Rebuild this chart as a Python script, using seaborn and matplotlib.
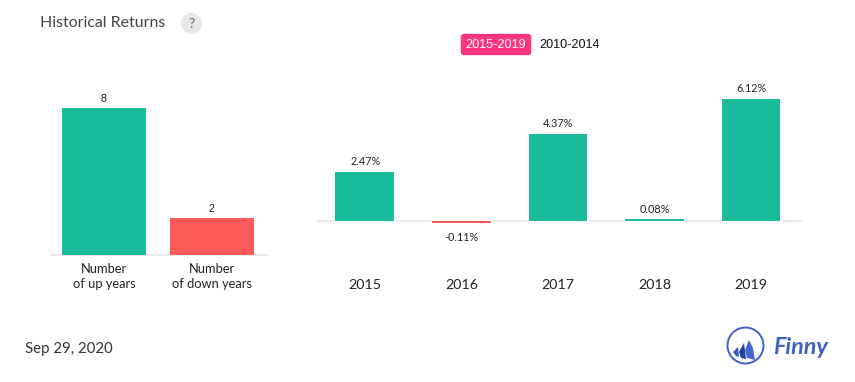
import pandas as pd
import seaborn as sns
import matplotlib.pyplot as plt
from matplotlib.patches import Circle, FancyBboxPatch, Polygon

W, H = 855, 382

count_labels = ['Number\nof up years', 'Number\nof down years']
count_values = [8, 2]
years = ['2015', '2016', '2017', '2018', '2019']
returns = [2.47, -0.11, 4.37, 0.08, 6.12]
return_labels = ['2.47%', '-0.11%', '4.37%', '0.08%', '6.12%']

GREEN = '#1abc9c'
RED = '#ff5a5a'
GREY = '#e9e9e9'
BAR_W = 0.611


def px_axes(fig, left, top, right, bottom):
    return fig.add_axes([left / W, 1 - bottom / H, (right - left) / W, (bottom - top) / H])


def ftext(x, y, s, **kw):
    kw.setdefault('ha', 'center')
    kw.setdefault('va', 'center')
    kw.setdefault('family', 'Lato')
    overlay.text(x, y, s, **kw)


def clean(ax):
    ax.set_xlabel('')
    ax.set_ylabel('')
    ax.set_yticks([])
    ax.tick_params(axis='x', length=0)
    sns.despine(ax=ax, left=True, top=True, right=True, bottom=True)
    ax.patch.set_alpha(0)


sns.set_theme(style="white")
plt.rcParams['font.family'] = ['Lato', 'DejaVu Sans']
fig = plt.figure(figsize=(W / 100, H / 100), dpi=100)

# left panel, up/down counts
ax1 = px_axes(fig, 50, 90, 267, 255)
df1 = pd.DataFrame({'label': count_labels, 'value': count_values})
sns.barplot(data=df1, x='label', y='value', hue='label', palette=[GREEN, RED], saturation=1,
            dodge=False, legend=False, width=0.778, ax=ax1, zorder=3, linewidth=0)
ax1.set_xlim(-0.5, 1.509)
ax1.set_ylim(0, 165 / 18.4)
ax1.axhline(0, color=GREY, linewidth=1.4, zorder=1, clip_on=False)
clean(ax1)
ax1.set_xticks([0, 1])
ax1.set_xticklabels(count_labels, fontsize=9.3, color='#222222', linespacing=1.25)
ax1.tick_params(axis='x', pad=6)
for i, v in enumerate(count_values):
    ax1.annotate(str(v), (i, v), xytext=(-0.5, 3), textcoords='offset points',
                 ha='center', va='bottom', fontsize=7.6, family='Liberation Sans', color='#111111')

# right panel, yearly returns
ax2 = px_axes(fig, 317.5, 80, 800.5, 240)
df2 = pd.DataFrame({'year': years, 'ret': returns, 'sign': ['up' if r > 0 else 'down' for r in returns]})
sns.barplot(data=df2, x='year', y='ret', hue='sign', palette={'up': GREEN, 'down': RED}, saturation=1,
            dodge=False, legend=False, width=BAR_W, ax=ax2, zorder=3, linewidth=0)
ax2.set_xlim(-0.492, 4.513)
ax2.set_ylim(-19 / 19.95, 141 / 19.95)
ax2.axhline(0, color=GREY, linewidth=1.4, zorder=1, clip_on=False)
# small white gaps in the baseline next to each bar
for i in range(len(years)):
    ax2.plot([i - BAR_W / 2 - 0.012, i + BAR_W / 2 + 0.012], [0, 0], color='white',
             linewidth=1.6, zorder=2, solid_capstyle='butt')
clean(ax2)
ax2.set_xticks(range(5))
ax2.set_xticklabels(years, fontsize=10.3, color='#222222')
ax2.tick_params(axis='x', pad=28)
for i, (v, s) in enumerate(zip(returns, return_labels)):
    if v >= 0:
        ax2.annotate(s, (i, v), xytext=(0.3, 3.5), textcoords='offset points',
                     ha='center', va='bottom', fontsize=7.8, color='#222222')
    else:
        ax2.annotate(s, (i, v), xytext=(0.3, -6), textcoords='offset points',
                     ha='center', va='top', fontsize=7.8, color='#222222')

# header, footer, logo in pixel coordinates
overlay = fig.add_axes([0, 0, 1, 1])
overlay.set_xlim(0, W)
overlay.set_ylim(H, 0)
overlay.axis('off')
overlay.patch.set_alpha(0)

ftext(40, 23, 'Historical Returns', ha='left', fontsize=11.4, color='#444444')
overlay.add_patch(Circle((191.5, 23.5), 10.5, facecolor='#e8e8e8', edgecolor='none'))
ftext(191.5, 23.5, '?', fontsize=10, color='#666666')

overlay.add_patch(FancyBboxPatch((461.5, 34.5), 69, 20, boxstyle='round,pad=0,rounding_size=2.5',
                                 facecolor='#fd3581', edgecolor='#fd3581', linewidth=1))
ftext(496, 45, '2015-2019', fontsize=9.1, family='Liberation Sans', color='white')
ftext(570, 45, '2010-2014', fontsize=9.1, family='Liberation Sans', color='#111111')

ftext(25, 349, 'Sep 29, 2020', ha='left', fontsize=10.8, color='#333333')

overlay.add_patch(Circle((745.5, 345.5), 18, facecolor='white', edgecolor='#3f62c4', linewidth=1.4))
overlay.add_patch(Polygon([(749, 340), (745, 350), (747, 358), (755, 360), (753, 348)],
                          facecolor='#4268cc', edgecolor='none'))
overlay.add_patch(Polygon([(744, 343), (739, 352), (741, 358), (746, 359)], facecolor='#1f3fa0', edgecolor='none'))
overlay.add_patch(Polygon([(738, 347), (733, 352), (736, 356), (739, 357)], facecolor='#3557b8', edgecolor='none'))
ftext(773, 347, 'Finny', ha='left', fontsize=16.8, family='Lato', style='italic',
      weight='bold', color='#3f62c4')

fig.savefig("out.png", dpi=100)
